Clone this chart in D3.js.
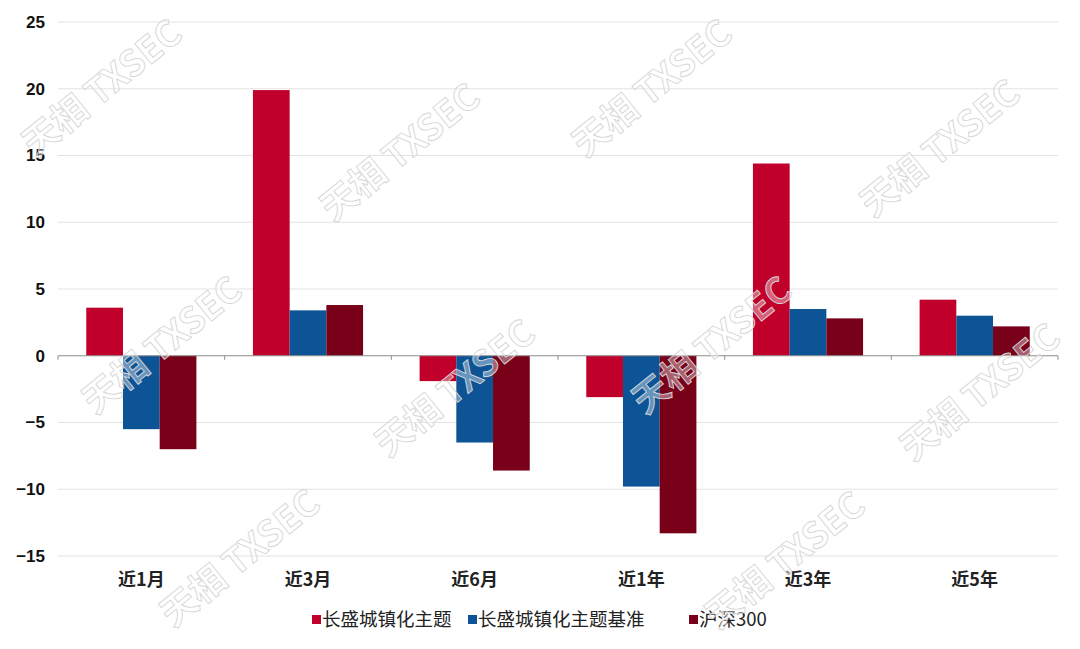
<!DOCTYPE html>
<html><head><meta charset="utf-8">
<script src="https://cdn.jsdelivr.net/npm/d3@7"></script>
<style>body{margin:0;background:#fff}svg{display:block}</style>
</head><body>
<svg id="c" width="1080" height="649"></svg>
<script>
const categories = ["近1月","近3月","近6月","近1年","近3年","近5年"];
const seriesNames = ["长盛城镇化主题","长盛城镇化主题基准","沪深300"];
const fundValues = [3.6, 19.9, -1.9, -3.1, 14.4, 4.2];
const benchValues = [-5.5, 3.4, -6.5, -9.8, 3.5, 3.0];
const hs300Values = [-7.0, 3.8, -8.6, -13.3, 2.8, 2.2];
const yTicks = [-15,-10,-5,0,5,10,15,20,25];
const colors = ["#C0002B","#0C5496","#780019"];
const watermarks = [[102,88],[400,152],[652,88],[940,148],[162,345],[455,388],[712,345],[980,392],[240,558],[785,560]];

const seriesValues = [fundValues, benchValues, hs300Values];
const svg = d3.select("#c");
const L = 58, R = 1058, T = 22, B = 556;

const x0 = d3.scaleBand().domain(categories).range([L, R]).padding(0);
const x1 = d3.scaleBand().domain(seriesNames).range([0, x0.bandwidth()]).paddingInner(0).paddingOuter(0.77);
const y = d3.scaleLinear().domain([-15, 25]).range([B, T]);

// gridlines
svg.append("g").selectAll("line").data(yTicks.filter(d => d !== 0)).join("line")
  .attr("x1", L).attr("x2", R).attr("y1", d => y(d)).attr("y2", d => y(d))
  .attr("stroke", "#e3e3e3").attr("stroke-width", 1);

// y labels
const yAxis = d3.axisLeft(y).tickValues(yTicks).tickSize(0).tickPadding(12);
const ya = svg.append("g").attr("transform", `translate(${L},0)`).call(yAxis);
ya.select(".domain").remove();
ya.selectAll("text").attr("font-family", "Liberation Sans, Arial, sans-serif").attr("font-size", 17)
  .attr("font-weight", "bold").attr("fill", "#111").attr("dx", -1);

// bars
const data = [];
categories.forEach((c, i) => seriesNames.forEach((s, j) => data.push({c, s, j, v: seriesValues[j][i]})));
svg.append("g").selectAll("rect").data(data).join("rect")
  .attr("x", d => x0(d.c) + x1(d.s))
  .attr("width", x1.bandwidth())
  .attr("y", d => y(Math.max(0, d.v)))
  .attr("height", d => Math.abs(y(d.v) - y(0)))
  .attr("fill", d => colors[d.j]);

// zero axis with ticks at category boundaries
const boundaries = categories.map(c => x0(c)).concat([R]);
svg.append("line").attr("x1", L).attr("x2", R).attr("y1", y(0)).attr("y2", y(0))
  .attr("stroke", "#8c8c8c").attr("stroke-width", 1);
svg.append("g").selectAll("line").data(boundaries).join("line")
  .attr("x1", d => d).attr("x2", d => d).attr("y1", y(0)).attr("y2", y(0) + 4)
  .attr("stroke", "#8c8c8c").attr("stroke-width", 1);

// category labels
svg.append("g").selectAll("text").data(categories).join("text")
  .attr("x", d => x0(d) + x0.bandwidth() / 2).attr("y", 586)
  .attr("text-anchor", "middle").attr("font-family", "Noto Sans CJK SC, sans-serif")
  .attr("font-size", 18).attr("font-weight", "bold").attr("fill", "#222").text(d => d);

// legend
const legendX = [312, 468, 689];
const lg = svg.append("g").selectAll("g").data(seriesNames).join("g")
  .attr("transform", (d, i) => `translate(${legendX[i]},620)`);
lg.append("rect").attr("x", 0).attr("y", -5).attr("width", 9).attr("height", 9).attr("fill", (d, i) => colors[i]);
lg.append("text").attr("x", 10).attr("y", 0).attr("dy", "0.35em")
  .attr("font-family", "Noto Sans CJK SC, sans-serif").attr("font-size", 18.5)
  .attr("fill", "#222").text(d => d);

// watermarks
svg.append("g").selectAll("text").data(watermarks).join("text")
  .attr("transform", d => `translate(${d[0]},${d[1]}) rotate(-39)`)
  .attr("text-anchor", "middle").attr("dy", "0.35em")
  .attr("font-family", "Noto Sans CJK SC, sans-serif").attr("font-size", 36).attr("font-weight", "bold")
  .attr("fill", "rgba(255,255,255,0.4)").attr("stroke", "#d6d6d6").attr("stroke-width", 0.9)
  .text("天相 TXSEC");
</script>
</body></html>
